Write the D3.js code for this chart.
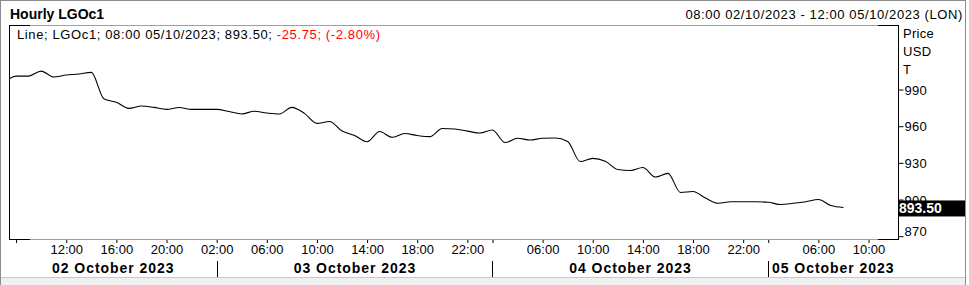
<!DOCTYPE html>
<html lang="en">
<head>
<meta charset="UTF-8">
<title>Hourly LGOc1</title>
<script src="https://cdn.jsdelivr.net/npm/d3@7"></script>
<style>
  body { margin: 0; background: #fff; }
  svg text { font-family: "Liberation Sans", Arial, sans-serif; }
</style>
</head>
<body>
<div id="chart"></div>
<script>
// hourly closes, one array per trading day (session 01:00 - 22:00)
const pricesOct2 = [995.3, 1001.0, 1001.0, 1005.1, 1000.2, 1001.9, 1002.7, 1004.0,
  982.5, 979.6, 974.6, 976.5, 975.4, 973.8, 975.3, 973.8];               // 07:00 - 22:00
const pricesOct3 = [973.8, 973.8, 972.0, 970.0, 972.2, 970.8, 970.0, 975.4, 970.5, 962.3, 963.8,
  956.0, 952.4, 947.3, 955.6, 950.9, 954.0, 952.4, 951.5, 958.1, 957.7, 956.0];  // 01:00 - 22:00
const pricesOct4 = [954.4, 956.9, 946.6, 950.1, 948.7, 950.1, 950.3, 947.5, 931.1, 933.7, 931.3,
  924.5, 923.7, 926.2, 918.4, 921.4, 905.8, 906.6, 901.2, 896.9, 898.2, 898.2];  // 01:00 - 22:00
const pricesOct5 = [898.2, 897.8, 895.9, 896.9, 898.2, 900.0, 895.1, 893.5];    // 01:00 - 08:00

const days = ["2023-10-02", "2023-10-03", "2023-10-04", "2023-10-05"];
const dayLabels = ["02 October 2023", "03 October 2023", "04 October 2023", "05 October 2023"];
const firstHour = [7, 1, 1, 1];

// x axis ticks (time slot) and whether they carry a label
const tickTimes = ["2023-10-02 08:00", "2023-10-02 12:00", "2023-10-02 16:00", "2023-10-02 20:00",
  "2023-10-03 02:00", "2023-10-03 06:00", "2023-10-03 10:00", "2023-10-03 14:00", "2023-10-03 18:00", "2023-10-03 22:00",
  "2023-10-04 02:00", "2023-10-04 06:00", "2023-10-04 10:00", "2023-10-04 14:00", "2023-10-04 18:00", "2023-10-04 22:00",
  "2023-10-05 02:00", "2023-10-05 06:00", "2023-10-05 10:00"];
const tickShown = [0, 1, 1, 1, 1, 1, 1, 1, 1, 1, 0, 1, 1, 1, 1, 1, 0, 1, 1];
const dayStarts = ["2023-10-03 02:00", "2023-10-04 02:00", "2023-10-05 02:00"];

const yTicks = [870, 900, 930, 960, 990];
const lastPrice = 893.50, change = -25.75, changePct = -2.80;

// --- build the slot list (trading hours only, 01:00 - 22:00)
const pad = n => (n < 10 ? "0" : "") + n;
const slots = [];
days.forEach((d, k) => {
  const end = k === days.length - 1 ? 12 : 22;
  for (let h = firstHour[k]; h <= end; h++) {
    if (h >= 1 && h <= 22) slots.push(d + " " + pad(h) + ":00");
  }
});
const allPrices = [].concat(pricesOct2, pricesOct3, pricesOct4, pricesOct5);
const data = allPrices.map((v, i) => ({ t: slots[i], v: v }));

const width = 969, height = 285;
const plot = { left: 9, right: 898, top: 25, bottom: 239 };

const svg = d3.select("#chart").append("svg").attr("width", width).attr("height", height);

// outer frame
svg.append("rect").attr("x", 0).attr("y", 0).attr("width", width).attr("height", height).attr("fill", "#fff");
svg.append("rect").attr("x", 1).attr("y", 277).attr("width", 965).attr("height", 8).attr("fill", "#f0f0f0");
svg.append("line").attr("x1", 0).attr("x2", 966).attr("y1", 277.5).attr("y2", 277.5).attr("stroke", "#c8c8c8");
svg.append("rect").attr("x", 0.5).attr("y", 0.5).attr("width", 965).attr("height", 290)
  .attr("fill", "none").attr("stroke", "#8c8c8c");

const x = d3.scalePoint().domain(slots).range([3.56, 893.6]);
const y = d3.scaleLinear().domain([867.7, 1042.8]).range([plot.bottom, plot.top]);

// header
svg.append("text").attr("x", 10).attr("y", 19).attr("font-size", 14).attr("font-weight", "bold")
  .text("Hourly LGOc1");
svg.append("text").attr("x", 963).attr("y", 18.5).attr("font-size", 13).attr("text-anchor", "end")
  .attr("letter-spacing", "0.6px")
  .text("08:00 02/10/2023 - 12:00 05/10/2023 (LON)");

// plot frame
svg.append("line").attr("x1", plot.left).attr("x2", plot.right - 20).attr("y1", plot.top + 0.5).attr("y2", plot.top + 0.5).attr("stroke", "#a0a0a0");
svg.append("line").attr("x1", plot.left + 21).attr("x2", plot.right - 20).attr("y1", plot.bottom + 0.5).attr("y2", plot.bottom + 0.5).attr("stroke", "#a0a0a0");
[[plot.left, plot.left + 21], [plot.right - 20, plot.right]].forEach(s => {
  svg.append("line").attr("x1", s[0]).attr("x2", s[1]).attr("y1", plot.top + 0.5).attr("y2", plot.top + 0.5).attr("stroke", "#000");
  svg.append("line").attr("x1", s[0]).attr("x2", s[1]).attr("y1", plot.bottom + 0.5).attr("y2", plot.bottom + 0.5).attr("stroke", "#000");
});
svg.append("line").attr("x1", plot.left + 0.5).attr("x2", plot.left + 0.5).attr("y1", plot.top).attr("y2", plot.bottom + 1).attr("stroke", "#000");

// legend
const legend = svg.append("text").attr("x", 17).attr("y", 39).attr("font-size", 13).attr("letter-spacing", "0.62px");
legend.append("tspan").text("Line; LGOc1; 08:00 05/10/2023; " + lastPrice.toFixed(2) + "; ");
legend.append("tspan").attr("fill", "#ff0000").text(change.toFixed(2) + "; (" + changePct.toFixed(2) + "%)");

// price line
svg.append("clipPath").attr("id", "clip").append("rect")
  .attr("x", plot.left + 1).attr("y", plot.top + 1)
  .attr("width", plot.right - plot.left - 1).attr("height", plot.bottom - plot.top - 1);
svg.append("path").datum(data)
  .attr("clip-path", "url(#clip)")
  .attr("fill", "none").attr("stroke", "#000").attr("stroke-width", 1.1)
  .attr("d", d3.line().x(d => x(d.t)).y(d => y(d.v)).curve(d3.curveMonotoneX));

// right price axis
const yAxis = svg.append("g").attr("transform", `translate(${plot.right + 0.5},0)`)
  .call(d3.axisRight(y).tickValues(yTicks).tickSize(5).tickPadding(1).tickFormat(d3.format("d")));
yAxis.select(".domain").attr("d", `M0,${plot.top}V${plot.bottom + 1}`).attr("stroke", "#000");
yAxis.selectAll("text").attr("font-size", 13).attr("font-family", "Liberation Sans, Arial, sans-serif")
  .attr("fill", "#000").attr("dy", "0.35em").attr("letter-spacing", "0.3px")
  .attr("y", d => Math.min(y(d), 230.5) - y(d));
["Price", "USD", "T"].forEach((s, i) => {
  svg.append("text").attr("x", 903).attr("y", 38 + i * 18).attr("font-size", 13).attr("letter-spacing", "0.3px").text(s);
});

// last value tag
svg.append("rect").attr("x", plot.right).attr("y", y(lastPrice) - 7).attr("width", 67).attr("height", 16).attr("fill", "#000");
svg.append("text").attr("x", 899).attr("y", y(lastPrice) + 5.5).attr("font-size", 14).attr("font-weight", "bold")
  .attr("fill", "#fff").text(lastPrice.toFixed(2));

// time axis
const ticks = tickTimes.map((t, i) => ({ t: t, show: tickShown[i] }));
const xAxis = svg.append("g").attr("transform", `translate(0,${plot.bottom + 1})`)
  .call(d3.axisBottom(x).tickValues(tickTimes).tickSize(3).tickPadding(4)
    .tickFormat((d, i) => ticks[i].show ? d.slice(11) : ""));
xAxis.select(".domain").remove();
xAxis.selectAll("line").attr("stroke", "#000");
xAxis.selectAll("text").attr("font-size", 13).attr("font-family", "Liberation Sans, Arial, sans-serif")
  .attr("fill", "#000").attr("dy", "0.71em").attr("y", 5);

// day separators and labels
const sepX = dayStarts.map(d => Math.round(x(d)) + 0.5);
sepX.forEach(sx => {
  svg.append("line").attr("x1", sx).attr("x2", sx).attr("y1", 261).attr("y2", 277).attr("stroke", "#000");
});
const bounds = [plot.left].concat(sepX, [plot.right]);
dayLabels.forEach((lab, i) => {
  svg.append("text").attr("x", (bounds[i] + bounds[i + 1]) / 2).attr("y", 272.5)
    .attr("text-anchor", "middle").attr("font-size", 14).attr("font-weight", "bold")
    .attr("letter-spacing", "0.95px").text(lab);
});
</script>
</body>
</html>
